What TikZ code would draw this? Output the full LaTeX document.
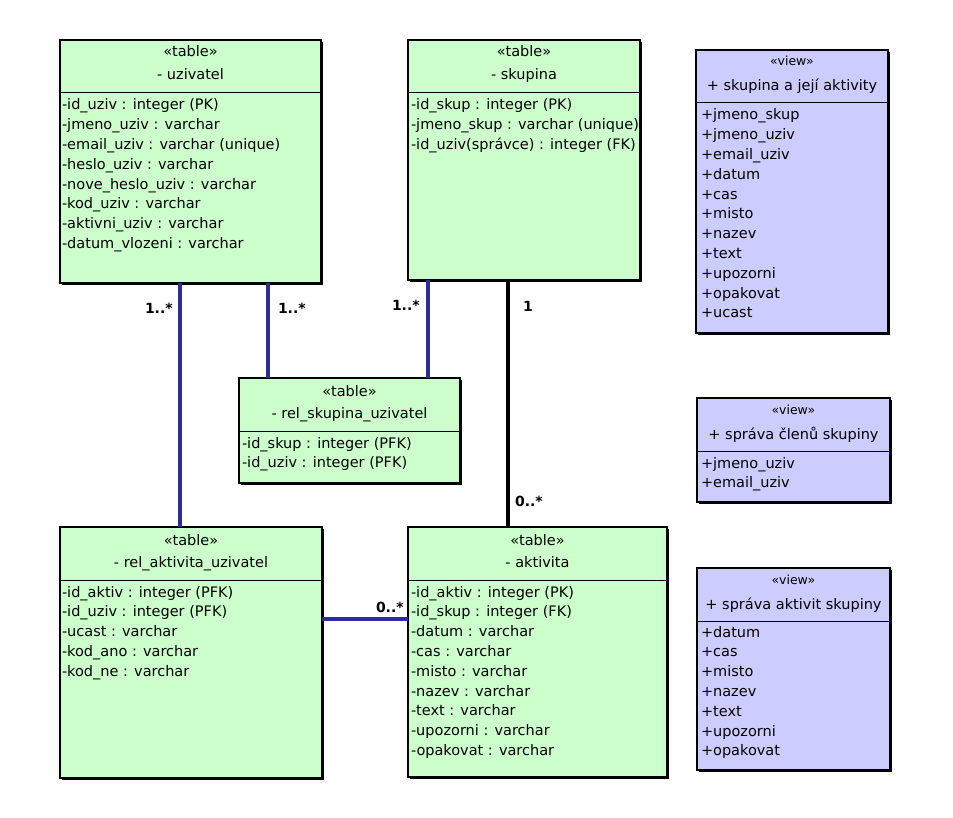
\documentclass[tikz,border=0pt]{standalone}
\usepackage{fontspec}
\setmainfont{DejaVu Sans}
\usetikzlibrary{shadows}
\definecolor{cccffcc}{RGB}{204,255,204}
\definecolor{cccccff}{RGB}{204,204,255}
\definecolor{c2d2d96}{RGB}{45,45,150}

\begin{document}
\begin{tikzpicture}[y=1pt, x=1pt, yscale=-1, inner sep=0pt, outer sep=0pt,
  tablebox/.style={draw=black,fill=cccffcc,line width=1.5pt,anchor=north west,
    drop shadow={shadow xshift=2pt,shadow yshift=-2pt,opacity=1,fill=black}},
  viewbox/.style={tablebox,fill=cccccff},
  hdr/.style={anchor=base,font=\fontsize{14.5}{17}\selectfont},
  stereo/.style={hdr,font=\fontsize{12.5}{15}\selectfont},
  attr/.style={anchor=base west,font=\fontsize{14.5}{17}\selectfont},
  mult/.style={anchor=base west,font=\fontsize{14}{17}\selectfont\bfseries},
  assoc/.style={draw=c2d2d96,line width=3.2pt},
  owner/.style={draw=black,line width=3.8pt}]
  \useasboundingbox (0,0) rectangle (953,818);

  % tables
  \node[tablebox,minimum width=261pt,minimum height=243pt] (uzivatel) at (60,40) {};
  \node[tablebox,minimum width=232pt,minimum height=240pt] (skupina) at (408,40) {};
  \node[tablebox,minimum width=221pt,minimum height=105pt] (relSkupUziv) at (239,378) {};
  \node[tablebox,minimum width=262pt,minimum height=251pt] (relAktivUziv) at (60,527) {};
  \node[tablebox,minimum width=259pt,minimum height=250pt] (aktivita) at (408,527) {};
  % views
  \node[viewbox,minimum width=192pt,minimum height=283pt] (viewAktivity) at (696,50) {};
  \node[viewbox,minimum width=193pt,minimum height=104pt] (viewClenove) at (697,398) {};
  \node[viewbox,minimum width=193pt,minimum height=202pt] (viewSprava) at (697,568) {};

  % header separators
  \path[draw=black,line width=1pt] (60,93) -- (321,93);
  \path[draw=black,line width=1pt] (408,93) -- (640,93);
  \path[draw=black,line width=1pt] (239,431) -- (460,431);
  \path[draw=black,line width=1pt] (60,580) -- (322,580);
  \path[draw=black,line width=1pt] (408,580) -- (667,580);
  \path[draw=black,line width=1pt] (696,103) -- (888,103);
  \path[draw=black,line width=1pt] (697,451) -- (890,451);
  \path[draw=black,line width=1pt] (697,621) -- (890,621);

  % headers
  \path (190.5,57) node[hdr] (text01) {«table»};
  \path (190.5,80) node[hdr] (text02) {- uzivatel};
  \path (524,57) node[hdr] (text03) {«table»};
  \path (524,80) node[hdr] (text04) {- skupina};
  \path (349.5,396) node[hdr] (text05) {«table»};
  \path (349.5,418) node[hdr] (text06) {- rel\_skupina\_uzivatel};
  \path (191,545) node[hdr] (text07) {«table»};
  \path (191,567) node[hdr] (text08) {- rel\_aktivita\_uzivatel};
  \path (537.5,545) node[hdr] (text09) {«table»};
  \path (537.5,567) node[hdr] (text10) {- aktivita};
  \path (792,66) node[stereo] (text11) {«view»};
  \path (792,91) node[hdr] (text12) {+ skupina a její aktivity};
  \path (793.5,414) node[stereo] (text13) {«view»};
  \path (793.5,439) node[hdr] (text14) {+ správa členů skupiny};
  \path (793.5,584) node[stereo] (text15) {«view»};
  \path (793.5,609) node[hdr] (text16) {+ správa aktivit skupiny};

  % attributes
  \foreach \t [count=\i from 0] in {-id\_uziv : integer (PK),-jmeno\_uziv : varchar,
    -email\_uziv : varchar (unique),-heslo\_uziv : varchar,-nove\_heslo\_uziv : varchar,
    -kod\_uziv : varchar,-aktivni\_uziv : varchar,-datum\_vlozeni : varchar}
    \path (62,{110+19.8*\i}) node[attr] (uzivatelRow\i) {\t};
  \foreach \t [count=\i from 0] in {-id\_skup : integer (PK),-jmeno\_skup : varchar (unique),
    -id\_uziv(správce) : integer (FK)}
    \path (411,{110+19.8*\i}) node[attr] (skupinaRow\i) {\t};
  \foreach \t [count=\i from 0] in {-id\_skup : integer (PFK),-id\_uziv : integer (PFK)}
    \path (242,{448+19.8*\i}) node[attr] (relSkupRow\i) {\t};
  \foreach \t [count=\i from 0] in {-id\_aktiv : integer (PFK),-id\_uziv : integer (PFK),
    -ucast : varchar,-kod\_ano : varchar,-kod\_ne : varchar}
    \path (62,{597+19.8*\i}) node[attr] (relAktivRow\i) {\t};
  \foreach \t [count=\i from 0] in {-id\_aktiv : integer (PK),-id\_skup : integer (FK),
    -datum : varchar,-cas : varchar,-misto : varchar,-nazev : varchar,-text : varchar,
    -upozorni : varchar,-opakovat : varchar}
    \path (411,{597+19.8*\i}) node[attr] (aktivitaRow\i) {\t};
  \foreach \t [count=\i from 0] in {+jmeno\_skup,+jmeno\_uziv,+email\_uziv,+datum,+cas,
    +misto,+nazev,+text,+upozorni,+opakovat,+ucast}
    \path (701,{120+19.8*\i}) node[attr] (viewAktivRow\i) {\t};
  \foreach \t [count=\i from 0] in {+jmeno\_uziv,+email\_uziv}
    \path (701,{468+19.8*\i}) node[attr] (viewClenRow\i) {\t};
  \foreach \t [count=\i from 0] in {+datum,+cas,+misto,+nazev,+text,+upozorni,+opakovat}
    \path (701,{637+19.8*\i}) node[attr] (viewSpravaRow\i) {\t};

  % associations
  \path[assoc] ([xshift=120pt]uzivatel.south west) coordinate (c1) -- (c1 |- relAktivUziv.north);
  \path[assoc] ([xshift=208pt]uzivatel.south west) coordinate (c2) -- (c2 |- relSkupUziv.north);
  \path[assoc] ([xshift=20pt]skupina.south west) coordinate (c3) -- (c3 |- relSkupUziv.north);
  \path[owner] ([xshift=100pt]skupina.south west) coordinate (c4) -- (c4 |- aktivita.north);
  \path[assoc] ([shift={(0,-33.5)}]relAktivUziv.east) coordinate (c5) -- (c5 -| aktivita.west);

  % multiplicities
  \path (145,314) node[mult] (text17) {1..*};
  \path (278,313) node[mult] (text18) {1..*};
  \path (392,311) node[mult] (text19) {1..*};
  \path (523,312) node[mult] (text20) {1};
  \path (515,506) node[mult] (text21) {0..*};
  \path (376,612) node[mult] (text22) {0..*};
\end{tikzpicture}
\end{document}
